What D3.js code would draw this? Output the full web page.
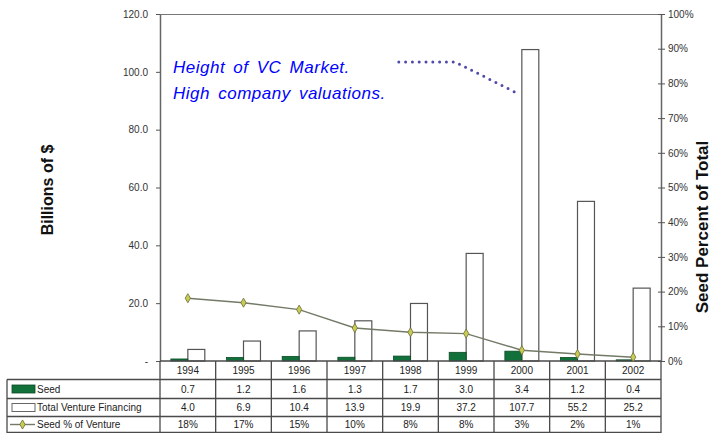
<!DOCTYPE html>
<html><head><meta charset="utf-8">
<script src="https://cdn.jsdelivr.net/npm/d3@7"></script>
<style>
html,body{margin:0;padding:0;background:#fff;}
svg{display:block;font-family:Arial,"Liberation Sans",sans-serif;}
</style></head>
<body>
<svg id="chart" width="714" height="433"></svg>
<script>
// ---- data ----
const years = ["1994","1995","1996","1997","1998","1999","2000","2001","2002"];
const seed = [0.7,1.2,1.6,1.3,1.7,3.0,3.4,1.2,0.4];
const totalVenture = [4.0,6.9,10.4,13.9,19.9,37.2,107.7,55.2,25.2];
const seedPct = [0.181,0.168,0.148,0.095,0.083,0.079,0.031,0.020,0.011];
const seedPctLabels = ["18%","17%","15%","10%","8%","8%","3%","2%","1%"];
const leftTicks = [0,20,40,60,80,100,120];
const rightTicks = [0,0.1,0.2,0.3,0.4,0.5,0.6,0.7,0.8,0.9,1.0];
const seriesNames = ["Seed","Total Venture Financing","Seed % of Venture"];
const annotationLines = ["Height of VC Market.","High company valuations."];
// annotation dotted path in (category index, share) space
const annotIdx = [4.29,5.30,6.45];
const annotPct = [0.862,0.862,0.769];

// ---- layout ----
const L = 160, R = 661, T = 14, B = 361;
const rowY = [361, 379.5, 398.5, 416.5, 432.5];
const GREEN = "#12703a", GRID = "#4a4a4a";

const svg = d3.select("#chart");
svg.append("rect").attr("width",714).attr("height",433).attr("fill","#fff");

const x = d3.scaleBand().domain(years).range([L,R]).paddingInner(0).paddingOuter(0);
const xi = d3.scaleLinear().domain([0,years.length]).range([L,R]);
const x1 = d3.scaleBand().domain(["seed","total"]).range([0,x.bandwidth()]).paddingInner(0).paddingOuter(0.64);
const yL = d3.scaleLinear().domain([0,120]).range([B,T]);
const yR = d3.scaleLinear().domain([0,1]).range([B,T]);

// top border
svg.append("line").attr("x1",L).attr("x2",R).attr("y1",T+0.5).attr("y2",T+0.5)
  .attr("stroke","#777").attr("stroke-width",1.2);

// bars
const g = svg.append("g");
g.selectAll("rect.total").data(years).join("rect").attr("class","total")
  .attr("x",(d)=>x(d)+x1("total")).attr("width",x1.bandwidth())
  .attr("y",(d,i)=>yL(totalVenture[i])).attr("height",(d,i)=>B-yL(totalVenture[i]))
  .attr("fill","#fff").attr("stroke","#555").attr("stroke-width",1.2);
g.selectAll("rect.seed").data(years).join("rect").attr("class","seed")
  .attr("x",(d)=>x(d)+x1("seed")).attr("width",x1.bandwidth())
  .attr("y",(d,i)=>yL(seed[i])).attr("height",(d,i)=>B-yL(seed[i]))
  .attr("fill",GREEN).attr("stroke","#0b4a25").attr("stroke-width",0.8);

// left axis
const axL = d3.axisLeft(yL).tickValues(leftTicks).tickSize(4).tickSizeOuter(0)
  .tickFormat(d=> d===0 ? "-" : d3.format(".1f")(d));
const gL = svg.append("g").attr("transform",`translate(${L},0)`).call(axL);
gL.select(".domain").attr("stroke","#666").attr("stroke-width",1.5);
gL.selectAll(".tick line").attr("stroke","#555");
gL.selectAll(".tick text").attr("x",-12).attr("font-size",10).attr("fill","#333").attr("font-family","Arial");

// right axis
const axR = d3.axisRight(yR).tickValues(rightTicks).tickSize(4).tickSizeOuter(0)
  .tickFormat(d3.format(".0%"));
const gR = svg.append("g").attr("transform",`translate(${R},0)`).call(axR);
gR.select(".domain").attr("stroke","#666").attr("stroke-width",1.5);
gR.selectAll(".tick line").attr("x1",-3).attr("stroke","#555");
gR.selectAll(".tick text").attr("x",7).attr("font-size",10).attr("fill","#333").attr("font-family","Arial");

// baseline
svg.append("line").attr("x1",L).attr("x2",R).attr("y1",B).attr("y2",B).attr("stroke",GRID).attr("stroke-width",1.3);

// seed % line
const cx = (d)=>x(d)+x.bandwidth()/2;
const line = d3.line().x((d,i)=>cx(years[i])).y(d=>yR(d));
svg.append("path").datum(seedPct).attr("d",line).attr("fill","none")
  .attr("stroke","#737a68").attr("stroke-width",1.4);
const diamond = d3.symbol().type(d3.symbolDiamond).size(24);
svg.selectAll("path.mk").data(seedPct).join("path").attr("class","mk")
  .attr("d",diamond).attr("transform",(d,i)=>`translate(${cx(years[i])},${yR(d)})`)
  .attr("fill","#c9cc52").attr("stroke","#6b6b38").attr("stroke-width",0.8);

// annotation
const at = svg.append("g").attr("fill","#0000ff").attr("font-style","italic")
  .attr("font-size",17).attr("letter-spacing",0.5).attr("word-spacing",3)
  .attr("font-family","Arial");
annotationLines.forEach((t,i)=>{
  at.append("text").attr("x",173).attr("y",73+i*26).text(t);
});
const annLine = d3.line().x((d,i)=>xi(annotIdx[i])).y(d=>yR(d));
svg.append("path").datum(annotPct).attr("d",annLine).attr("fill","none")
  .attr("stroke","#4f4aa8").attr("stroke-width",3).attr("stroke-linecap","round")
  .attr("stroke-dasharray","0,6.8");

// axis titles
svg.append("text").attr("transform","translate(53,190) rotate(-90)")
  .attr("text-anchor","middle").attr("font-weight","bold").attr("font-size",16)
  .attr("fill","#111").text("Billions of $");
svg.append("text").attr("transform","translate(708,227) rotate(-90)")
  .attr("text-anchor","middle").attr("font-weight","bold").attr("font-size",17)
  .attr("fill","#111").text("Seed Percent of Total");

// ---- data table ----
const tb = svg.append("g");
const TL = 7;
rowY.slice(1).forEach(y=>{
  tb.append("line").attr("x1",TL).attr("x2",R).attr("y1",y).attr("y2",y)
    .attr("stroke",GRID).attr("stroke-width",1.3);
});
d3.range(years.length+1).forEach(i=>{
  tb.append("line").attr("x1",xi(i)).attr("x2",xi(i)).attr("y1",B).attr("y2",433)
    .attr("stroke",GRID).attr("stroke-width",1.3);
});
tb.append("line").attr("x1",TL).attr("x2",TL).attr("y1",rowY[1]).attr("y2",433)
  .attr("stroke",GRID).attr("stroke-width",1.3);

const rows = [years, seed.map(d=>d3.format(".1f")(d)), totalVenture.map(d=>d3.format(".1f")(d)), seedPctLabels];
rows.forEach((r,ri)=>{
  tb.selectAll(null).data(r).join("text")
    .attr("x",(d,i)=>cx(years[i])).attr("y",(rowY[ri]+rowY[ri+1])/2+3.5)
    .attr("text-anchor","middle").attr("font-size",10).attr("fill","#222")
    .attr("font-family","Arial").text(d=>d);
});
seriesNames.forEach((n,i)=>{
  const yc = (rowY[i+1]+rowY[i+2])/2;
  tb.append("text").attr("x",37).attr("y",yc+3.5).attr("font-size",10)
    .attr("fill","#222").attr("font-family","Arial").text(n);
});
let yk = (rowY[1]+rowY[2])/2;
tb.append("rect").attr("x",12).attr("y",yk-4).attr("width",23).attr("height",8)
  .attr("fill",GREEN).attr("stroke","#0b4a25").attr("stroke-width",0.8);
yk = (rowY[2]+rowY[3])/2;
tb.append("rect").attr("x",12).attr("y",yk-4).attr("width",23).attr("height",8)
  .attr("fill","#fff").attr("stroke","#666").attr("stroke-width",1);
yk = (rowY[3]+rowY[4])/2;
tb.append("line").attr("x1",10).attr("x2",35).attr("y1",yk).attr("y2",yk)
  .attr("stroke","#737a68").attr("stroke-width",1.4);
tb.append("path").attr("d",diamond).attr("transform",`translate(22.5,${yk})`)
  .attr("fill","#c9cc52").attr("stroke","#6b6b38").attr("stroke-width",0.8);
</script>
</body></html>
